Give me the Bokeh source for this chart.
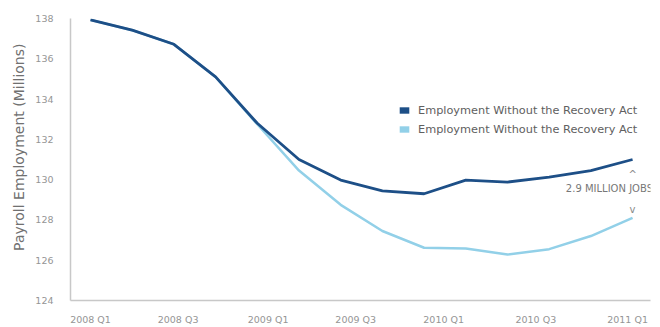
from bokeh.plotting import figure
from bokeh.models import Range1d, FixedTicker, Legend, LegendItem, Label, Title, ColumnDataSource
from bokeh.embed import file_html
from bokeh.resources import INLINE

# ---- data ----
quarter_index = list(range(14))
with_act = [137.93, 137.42, 136.72, 135.10, 132.80, 131.00, 129.98, 129.44,
            129.30, 129.98, 129.88, 130.12, 130.45, 131.00]
without_act = [137.93, 137.42, 136.72, 135.10, 132.75, 130.45, 128.75, 127.45,
               126.62, 126.58, 126.28, 126.55, 127.20, 128.10]
tick_labels = ["2008 Q1", "2008 Q3", "2009 Q1", "2009 Q3", "2010 Q1", "2010 Q3", "2011 Q1"]
tick_positions = [0.0, 2.1, 4.26, 6.36, 8.47, 10.68, 12.88]
y_ticks = [124, 126, 128, 130, 132, 134, 136, 138]
legend_labels = ["Employment Without the Recovery Act", "Employment Without the Recovery Act"]
y_title = "Payroll Employment (Millions)"
gap_label = "2.9 MILLION JOBS"

DARK = "#1d4f87"
LIGHT = "#92d0e8"
FONT = "DejaVu Sans"

p = figure(width=660, height=327, output_backend="svg", toolbar_location=None,
           x_range=Range1d(-0.48, 13.43), y_range=Range1d(124, 138),
           min_border_left=70, min_border_right=10, min_border_top=18, min_border_bottom=21)
p.outline_line_color = None
p.grid.grid_line_color = None

src = ColumnDataSource(dict(x=quarter_index, a=with_act, b=without_act))
r_light = p.line("x", "b", source=src, line_color=LIGHT, line_width=2.5)
r_dark = p.line("x", "a", source=src, line_color=DARK, line_width=2.8)

# zero-area quads: invisible in the plot, used only as legend swatches
sw_dark = p.quad(left="x", right="x", bottom="a", top="a", source=src,
                 fill_color=DARK, line_color=None)
sw_light = p.quad(left="x", right="x", bottom="b", top="b", source=src,
                  fill_color=LIGHT, line_color=None)

legend = Legend(items=[LegendItem(label=legend_labels[0], renderers=[sw_dark]),
                       LegendItem(label=legend_labels[1], renderers=[sw_light])],
                location=(328, 164), padding=0, margin=0, spacing=5,
                glyph_width=12, glyph_height=8, label_height=14, label_standoff=8,
                label_text_font=FONT, label_text_font_size="11.3px", label_text_color="#606060",
                border_line_color=None, background_fill_alpha=0)
p.add_layout(legend, "center")

# axes
p.xaxis.ticker = FixedTicker(ticks=tick_positions)
p.xaxis.major_label_overrides = {t: l for t, l in zip(tick_positions, tick_labels)}
p.yaxis.ticker = FixedTicker(ticks=y_ticks)
for ax in (p.xaxis, p.yaxis):
    ax.major_tick_line_color = None
    ax.minor_tick_line_color = None
    ax.axis_line_color = "#c8c8c8"
    ax.axis_line_width = 1.5
    ax.major_label_text_font = FONT
    ax.major_label_text_font_size = "9.5px"
    ax.major_label_text_color = "#959595"
p.xaxis.major_label_standoff = 7
p.yaxis.major_label_standoff = 11

# y-axis title as a side title, anchored near the top of the frame
p.add_layout(Title(text=y_title, align="right", offset=25, standoff=12,
                   text_font=FONT, text_font_size="14px", text_font_style="normal",
                   text_color="#707070"), "left")

# gap annotation
gx = quarter_index[-1]
gap_y = (with_act[-1] + without_act[-1]) / 2
p.add_layout(Label(x=gx, y=with_act[-1] - 0.75, text="^", text_font=FONT, text_font_size="10px",
                   text_color="#8a8a8a", text_align="center", text_baseline="middle"))
p.add_layout(Label(x=gx - 1.6, y=gap_y, text=gap_label, text_font=FONT, text_font_size="10px",
                   text_color="#777777", text_align="left", text_baseline="middle"))
p.add_layout(Label(x=gx, y=without_act[-1] + 0.4, text="v", text_font=FONT, text_font_size="10px",
                   text_color="#8a8a8a", text_align="center", text_baseline="middle"))

open("out.html", "w").write(file_html(p, INLINE))
